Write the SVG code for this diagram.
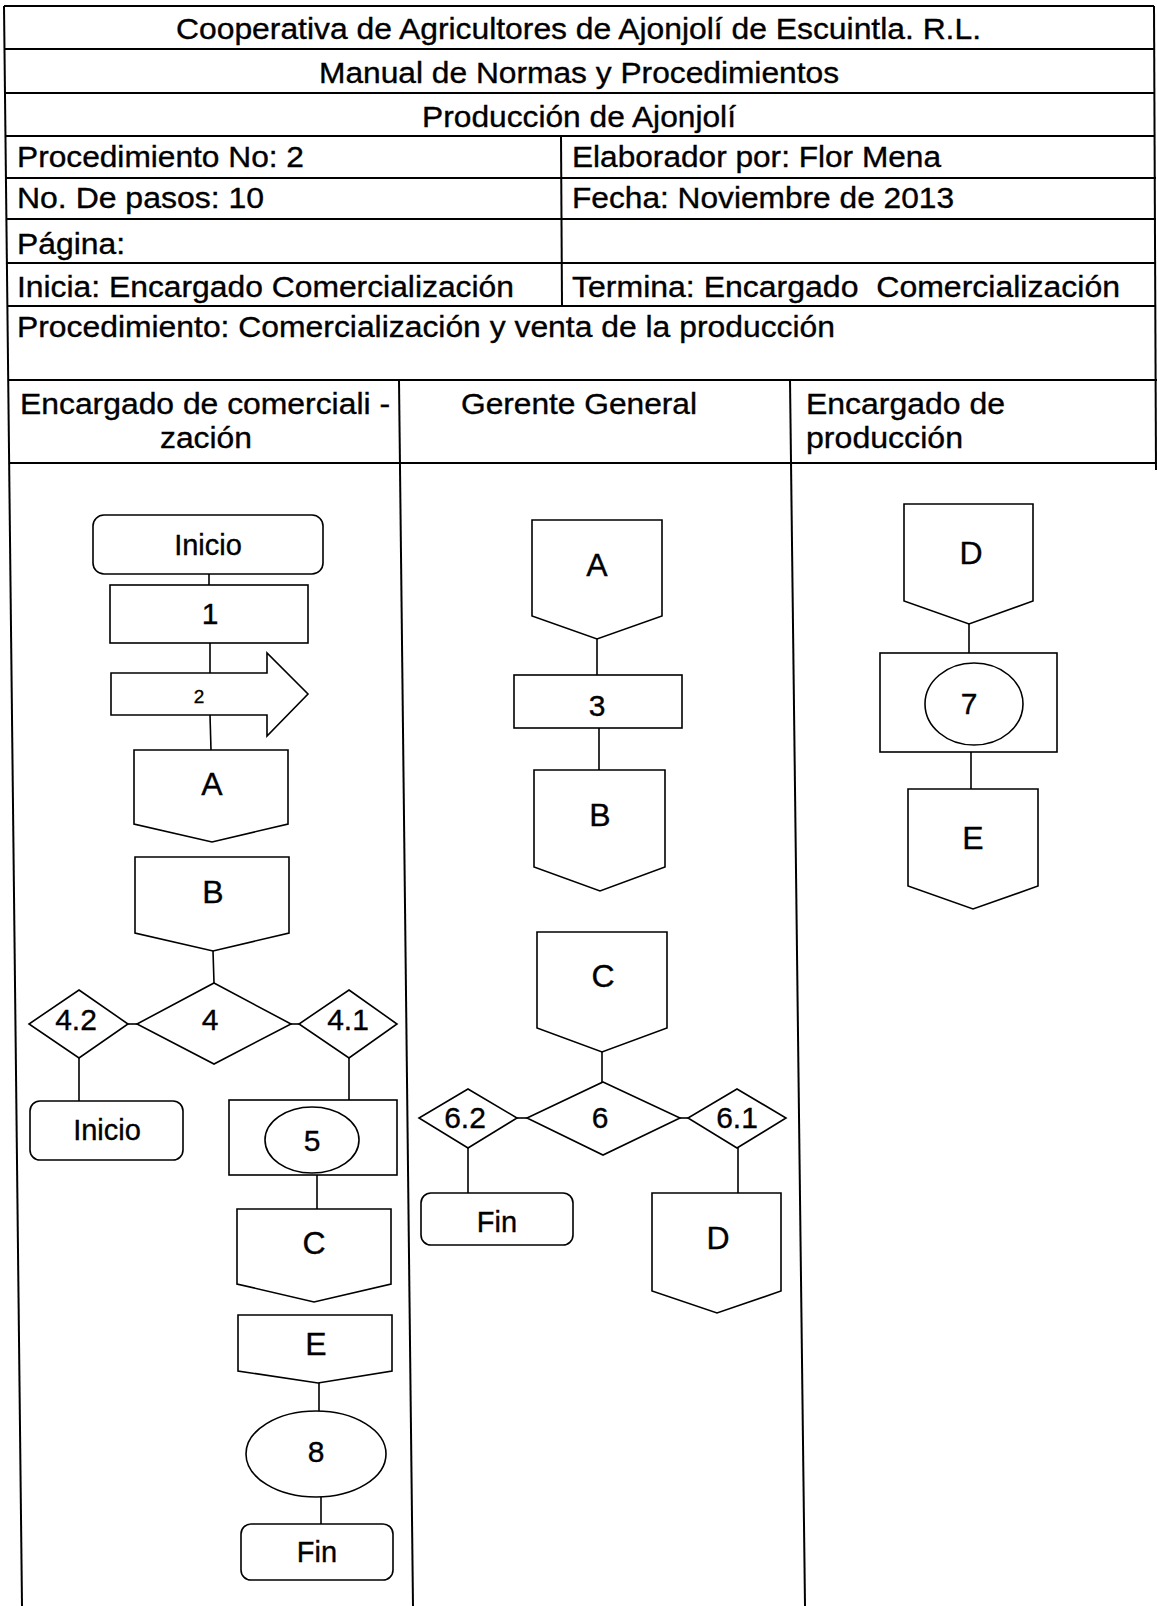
<svg xmlns="http://www.w3.org/2000/svg" width="1157" height="1606" viewBox="0 0 1157 1606">
<style>
.tb{stroke:#000;stroke-width:2;fill:none}
.ln{stroke:#000;stroke-width:1.6;fill:none}
.nd{fill:#fff;stroke:#000;stroke-width:1.6}
text{font-family:"Liberation Sans",Arial,sans-serif;fill:#000;stroke:#000;stroke-width:0.35}
.h{font-size:29px}
.n{font-size:30px;text-anchor:middle}
.L{font-size:32px;text-anchor:middle}
.w{font-size:29px;text-anchor:middle}
</style>
<rect width="1157" height="1606" fill="#fff"/>
<g id="table">
<line class="tb" x1="4" y1="6" x2="1154" y2="6"/>
<line class="tb" x1="4" y1="49" x2="1155" y2="49"/>
<line class="tb" x1="5" y1="93" x2="1155" y2="93"/>
<line class="tb" x1="5" y1="136" x2="1155" y2="136"/>
<line class="tb" x1="5" y1="178" x2="1156" y2="178"/>
<line class="tb" x1="6" y1="219" x2="1156" y2="219"/>
<line class="tb" x1="6" y1="263" x2="1156" y2="263"/>
<line class="tb" x1="7" y1="306" x2="1156" y2="306"/>
<line class="tb" x1="8" y1="380" x2="1157" y2="380"/>
<line class="tb" x1="9" y1="463" x2="1157" y2="463"/>
<line class="tb" x1="4" y1="6" x2="22" y2="1606"/>
<line class="tb" x1="1154" y1="6" x2="1156" y2="470"/>
<line class="tb" x1="561" y1="136" x2="562" y2="306"/>
<line class="tb" x1="399" y1="380" x2="413" y2="1606"/>
<line class="tb" x1="790" y1="380" x2="805" y2="1606"/>
</g>
<g id="header-text">
<text class="h" x="176" y="39" textLength="805" lengthAdjust="spacingAndGlyphs">Cooperativa de Agricultores de Ajonjolí de Escuintla. R.L.</text>
<text class="h" x="319" y="83" textLength="520" lengthAdjust="spacingAndGlyphs">Manual de Normas y Procedimientos</text>
<text class="h" x="422" y="127" textLength="314" lengthAdjust="spacingAndGlyphs">Producción de Ajonjolí</text>
<text class="h" x="17" y="167" textLength="287" lengthAdjust="spacingAndGlyphs">Procedimiento No: 2</text>
<text class="h" x="572" y="167" textLength="369" lengthAdjust="spacingAndGlyphs">Elaborador por: Flor Mena</text>
<text class="h" x="17" y="208" textLength="247" lengthAdjust="spacingAndGlyphs">No. De pasos: 10</text>
<text class="h" x="572" y="208" textLength="382" lengthAdjust="spacingAndGlyphs">Fecha: Noviembre de 2013</text>
<text class="h" x="17" y="254" textLength="108" lengthAdjust="spacingAndGlyphs">Página:</text>
<text class="h" x="17" y="297" textLength="497" lengthAdjust="spacingAndGlyphs">Inicia: Encargado Comercialización</text>
<text class="h" x="572" y="297" textLength="548" lengthAdjust="spacingAndGlyphs" xml:space="preserve">Termina: Encargado  Comercialización</text>
<text class="h" x="17" y="337" textLength="818" lengthAdjust="spacingAndGlyphs">Procedimiento: Comercialización y venta de la producción</text>
<text class="h" x="20" y="414" textLength="370" lengthAdjust="spacingAndGlyphs">Encargado de comerciali -</text>
<text class="h" x="160" y="448" textLength="92" lengthAdjust="spacingAndGlyphs">zación</text>
<text class="h" x="461" y="414" textLength="236" lengthAdjust="spacingAndGlyphs">Gerente General</text>
<text class="h" x="806" y="414" textLength="199" lengthAdjust="spacingAndGlyphs">Encargado de</text>
<text class="h" x="806" y="448" textLength="157" lengthAdjust="spacingAndGlyphs">producción</text>
</g>
<g id="connectors">
<line class="ln" x1="209" y1="574" x2="209" y2="585"/>
<line class="ln" x1="210" y1="643" x2="210" y2="673"/>
<line class="ln" x1="210" y1="715" x2="211" y2="750"/>
<line class="ln" x1="213" y1="951" x2="214" y2="983"/>
<line class="ln" x1="128" y1="1024" x2="137" y2="1024"/>
<line class="ln" x1="291" y1="1024" x2="299" y2="1024"/>
<line class="ln" x1="79" y1="1058" x2="79" y2="1101"/>
<line class="ln" x1="349" y1="1058" x2="349" y2="1100"/>
<line class="ln" x1="317" y1="1175" x2="317" y2="1209"/>
<line class="ln" x1="319" y1="1383" x2="319" y2="1411"/>
<line class="ln" x1="321" y1="1497" x2="321" y2="1524"/>
<line class="ln" x1="597" y1="639" x2="597" y2="675"/>
<line class="ln" x1="599" y1="728" x2="599" y2="770"/>
<line class="ln" x1="602" y1="1052" x2="602" y2="1082"/>
<line class="ln" x1="517" y1="1118" x2="527" y2="1118"/>
<line class="ln" x1="680" y1="1118" x2="688" y2="1118"/>
<line class="ln" x1="468" y1="1148" x2="468" y2="1193"/>
<line class="ln" x1="738" y1="1148" x2="738" y2="1193"/>
<line class="ln" x1="969" y1="624" x2="969" y2="653"/>
<line class="ln" x1="971" y1="752" x2="971" y2="789"/>
</g>
<g id="inicio1"><rect class="nd" x="93" y="515" width="230" height="59" rx="11"/><text class="w" x="208" y="555">Inicio</text></g>
<g id="paso1"><rect class="nd" x="110" y="585" width="198" height="58"/><text class="n" x="210" y="624">1</text></g>
<g id="paso2"><polygon class="nd" points="111,673 267,673 267,653 308,694 267,736 267,715 111,715"/><text x="199" y="703" font-size="19" text-anchor="middle" stroke-width="0.6">2</text></g>
<g id="conA1"><polygon class="nd" points="134,750 288,750 288,824 212,842 134,824"/><text class="L" x="212" y="795">A</text></g>
<g id="conB1"><polygon class="nd" points="135,857 289,857 289,933 213,951 135,933"/><text class="L" x="213" y="903">B</text></g>
<g id="dec4"><polygon class="nd" points="214,983 291,1024 214,1064 137,1024"/><text class="n" x="210" y="1030">4</text></g>
<g id="dec42"><polygon class="nd" points="79,990 128,1024 79,1058 29,1024"/><text class="n" x="76" y="1030">4.2</text></g>
<g id="dec41"><polygon class="nd" points="349,990 397,1024 349,1058 299,1024"/><text class="n" x="348" y="1030">4.1</text></g>
<g id="inicio2"><rect class="nd" x="30" y="1101" width="153" height="59" rx="10"/><text class="w" x="107" y="1140">Inicio</text></g>
<g id="paso5"><rect class="nd" x="229" y="1100" width="168" height="75"/><ellipse class="nd" cx="312" cy="1140" rx="47" ry="33"/><text class="n" x="312" y="1151">5</text></g>
<g id="conC1"><polygon class="nd" points="237,1209 391,1209 391,1284 314,1302 237,1284"/><text class="L" x="314" y="1254">C</text></g>
<g id="conE1"><polygon class="nd" points="238,1315 392,1315 392,1371 318,1383 238,1371"/><text class="L" x="316" y="1355">E</text></g>
<g id="paso8"><ellipse class="nd" cx="316" cy="1454" rx="70" ry="43"/><text class="n" x="316" y="1462">8</text></g>
<g id="fin1"><rect class="nd" x="241" y="1524" width="152" height="56" rx="10"/><text class="w" x="317" y="1562">Fin</text></g>
<g id="conA2"><polygon class="nd" points="532,520 662,520 662,616 597,639 532,616"/><text class="L" x="597" y="576">A</text></g>
<g id="paso3"><rect class="nd" x="514" y="675" width="168" height="53"/><text class="n" x="597" y="716">3</text></g>
<g id="conB2"><polygon class="nd" points="534,770 665,770 665,867 600,891 534,867"/><text class="L" x="600" y="826">B</text></g>
<g id="conC2"><polygon class="nd" points="537,932 667,932 667,1028 602,1052 537,1028"/><text class="L" x="603" y="987">C</text></g>
<g id="dec6"><polygon class="nd" points="603,1082 680,1118 603,1155 527,1118"/><text class="n" x="600" y="1128">6</text></g>
<g id="dec62"><polygon class="nd" points="468,1089 517,1118 468,1148 419,1118"/><text class="n" x="465" y="1128">6.2</text></g>
<g id="dec61"><polygon class="nd" points="737,1089 786,1118 737,1148 688,1118"/><text class="n" x="737" y="1128">6.1</text></g>
<g id="fin2"><rect class="nd" x="421" y="1193" width="152" height="52" rx="10"/><text class="w" x="497" y="1232">Fin</text></g>
<g id="conD2"><polygon class="nd" points="652,1193 781,1193 781,1291 717,1313 652,1291"/><text class="L" x="718" y="1249">D</text></g>
<g id="conD3"><polygon class="nd" points="904,504 1033,504 1033,601 969,624 904,601"/><text class="L" x="971" y="564">D</text></g>
<g id="paso7"><rect class="nd" x="880" y="653" width="177" height="99"/><ellipse class="nd" cx="974" cy="704" rx="49" ry="41"/><text class="n" x="969" y="714">7</text></g>
<g id="conE3"><polygon class="nd" points="908,789 1038,789 1038,886 973,909 908,886"/><text class="L" x="973" y="849">E</text></g>
</svg>
